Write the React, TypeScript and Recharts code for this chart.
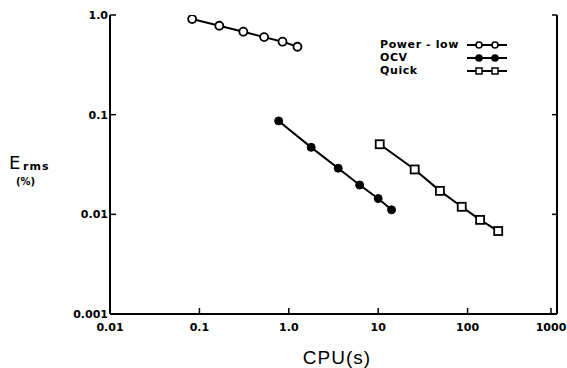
import React from 'react';
import { ScatterChart, Scatter, XAxis, YAxis, Legend } from 'recharts';

// values
const powerLawCpu = [0.083, 0.167, 0.31, 0.53, 0.85, 1.25];
const powerLawErr = [0.91, 0.78, 0.68, 0.6, 0.54, 0.48];
const ocvCpu = [0.77, 1.78, 3.57, 6.2, 10.0, 14.1];
const ocvErr = [0.0865, 0.047, 0.029, 0.0197, 0.0144, 0.0111];
const quickCpu = [10.4, 25.6, 49, 86, 138, 220];
const quickErr = [0.0505, 0.0282, 0.0172, 0.0119, 0.0088, 0.0068];

const xTicks = [0.01, 0.1, 1, 10, 100, 1000];
const xTickLabels = ['0.01', '0.1', '1.0', '10', '100', '1000'];
const yTicks = [0.001, 0.01, 0.1, 1];
const yTickLabels = ['0.001', '0.01', '0.1', '1.0'];

const toPoints = (xs: number[], ys: number[]) => xs.map((x, i) => ({ x, y: ys[i] }));

const powerLaw = toPoints(powerLawCpu, powerLawErr);
const ocv = toPoints(ocvCpu, ocvErr);
const quick = toPoints(quickCpu, quickErr);

const FONT = "'DejaVu Sans', sans-serif";

const XTick = (props: any) => {
  const { x, y, index } = props;
  return (
    <g>
      <line x1={x} x2={x} y1={y} y2={y - 6} stroke="#000" strokeWidth={1.5} />
      <text x={x} y={y + 17} textAnchor="middle" fontSize={11} fontWeight="bold" fontFamily={FONT} fill="#000">
        {xTickLabels[index]}
      </text>
    </g>
  );
};

const YTick = (props: any) => {
  const { x, y, index } = props;
  return (
    <g>
      <line x1={x} x2={x + 6} y1={y} y2={y} stroke="#000" strokeWidth={1.5} />
      <text x={x - 2} y={y + 4} textAnchor="end" fontSize={11} fontWeight="bold" fontFamily={FONT} fill="#000">
        {yTickLabels[index]}
      </text>
    </g>
  );
};

const RightTick = (props: any) => {
  const { x, y } = props;
  return <line x1={x} x2={x - 5} y1={y} y2={y} stroke="#000" strokeWidth={1.5} />;
};

const OpenCircle = (p: any) => <circle cx={p.cx} cy={p.cy} r={4} fill="#fff" stroke="#000" strokeWidth={1.8} />;
const FilledCircle = (p: any) => <circle cx={p.cx} cy={p.cy} r={4} fill="#000" stroke="#000" strokeWidth={1} />;
const OpenSquare = (p: any) => (
  <rect x={p.cx - 4} y={p.cy - 4} width={8} height={8} fill="#fff" stroke="#000" strokeWidth={1.8} />
);

const legendRows = [
  { label: 'Power - low', kind: 'open' },
  { label: 'OCV', kind: 'filled' },
  { label: 'Quick', kind: 'square' },
];

const LegendSymbol = ({ kind }: { kind: string }) => (
  <svg width={42} height={10}>
    <line x1={1} x2={41} y1={5} y2={5} stroke="#000" strokeWidth={1.8} />
    {[13, 29].map((cx) =>
      kind === 'square' ? (
        <rect key={cx} x={cx - 3} y={2} width={6} height={6} fill="#fff" stroke="#000" strokeWidth={1.5} />
      ) : (
        <circle key={cx} cx={cx} cy={5} r={3} fill={kind === 'filled' ? '#000' : '#fff'} stroke="#000" strokeWidth={1.5} />
      )
    )}
  </svg>
);

const renderLegend = () => (
  <div style={{ fontFamily: FONT }}>
    {legendRows.map((r) => (
      <div key={r.label} style={{ display: 'flex', alignItems: 'center', height: 13 }}>
        <span style={{ width: 86, fontSize: 11, fontWeight: 'bold', letterSpacing: 0.6 }}>{r.label}</span>
        <LegendSymbol kind={r.kind} />
      </div>
    ))}
  </div>
);

const YLabel = () => (
  <g fontFamily={FONT} fill="#000">
    <text x={9} y={169} fontSize={18}>E</text>
    <text x={23} y={170} fontSize={11} fontWeight="bold" letterSpacing={1}>rms</text>
    <text x={16} y={185} fontSize={10} fontWeight="bold">(%)</text>
  </g>
);

const XLabel = () => (
  <text x={337} y={364} textAnchor="middle" fontSize={19} fontFamily="'Liberation Sans', sans-serif" letterSpacing={1} fill="#000">
    CPU(s)
  </text>
);

export default function App() {
  return (
    <div style={{ position: 'absolute', left: 0, top: 0, width: 567, height: 368, background: '#fff' }}>
      <ScatterChart width={567} height={368} margin={{ top: 15, right: 9, bottom: 0, left: 0 }}>
        <XAxis
          dataKey="x"
          type="number"
          scale="log"
          domain={[0.01, 1000]}
          ticks={xTicks}
          allowDataOverflow
          height={54}
          tickSize={0}
          tickMargin={0}
          tickLine={false}
          tick={<XTick />}
          axisLine={{ stroke: '#000', strokeWidth: 2 }}
          label={{ content: () => <XLabel /> }}
        />
        <XAxis
          xAxisId="top"
          orientation="top"
          dataKey="x"
          type="number"
          scale="log"
          domain={[0.01, 1000]}
          allowDataOverflow
          height={0}
          tick={false}
          tickLine={false}
          axisLine={{ stroke: '#000', strokeWidth: 2 }}
        />
        <YAxis
          dataKey="y"
          type="number"
          scale="log"
          domain={[0.001, 1]}
          ticks={yTicks}
          allowDataOverflow
          width={110}
          tickSize={0}
          tickMargin={0}
          tickLine={false}
          tick={<YTick />}
          axisLine={{ stroke: '#000', strokeWidth: 2 }}
          label={{ content: () => <YLabel /> }}
        />
        <YAxis
          yAxisId="right"
          orientation="right"
          dataKey="y"
          type="number"
          scale="log"
          domain={[0.001, 1]}
          ticks={yTicks}
          allowDataOverflow
          width={1}
          tickSize={0}
          tickMargin={0}
          tickLine={false}
          tick={<RightTick />}
          axisLine={{ stroke: '#000', strokeWidth: 2 }}
        />
        <Legend
          content={renderLegend}
          layout="vertical"
          align="center"
          verticalAlign="middle"
          wrapperStyle={{ position: 'absolute', top: 38, left: 380, width: 140 }}
        />
        <Scatter
          name="Power - low"
          data={powerLaw}
          line={{ stroke: '#000', strokeWidth: 2 }}
          shape={OpenCircle}
          isAnimationActive={false}
        />
        <Scatter
          name="OCV"
          data={ocv}
          line={{ stroke: '#000', strokeWidth: 2 }}
          shape={FilledCircle}
          isAnimationActive={false}
        />
        <Scatter
          name="Quick"
          data={quick}
          line={{ stroke: '#000', strokeWidth: 2 }}
          shape={OpenSquare}
          isAnimationActive={false}
        />
      </ScatterChart>
    </div>
  );
}
